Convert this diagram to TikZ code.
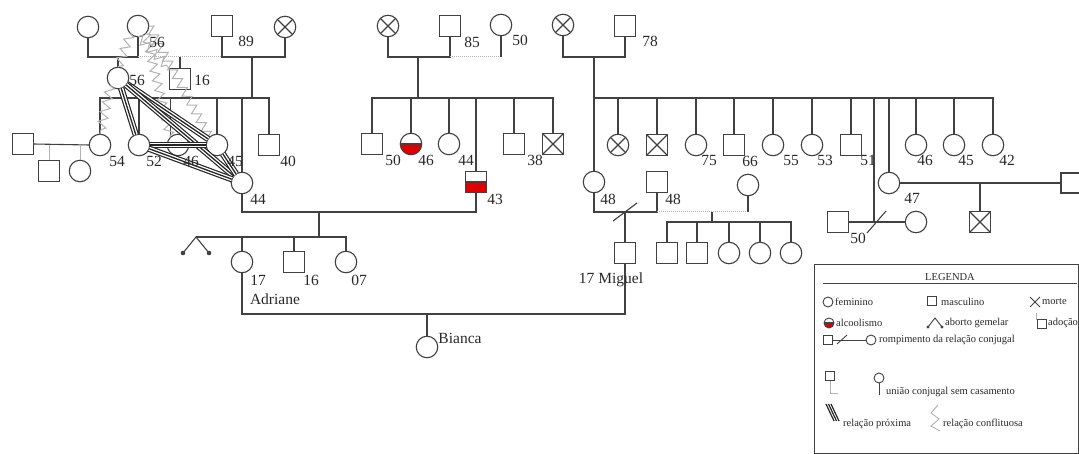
\documentclass[tikz,border=0pt]{standalone}
\usepackage{fontspec}
\setmainfont{Liberation Serif}
\usetikzlibrary{decorations.pathmorphing}
\definecolor{ln}{RGB}{65,65,65}
\definecolor{lg}{RGB}{178,178,178}
\definecolor{txt}{RGB}{40,40,40}
\definecolor{alc}{RGB}{225,0,0}
\tikzset{
 base/.style={draw=ln, fill=white, line width=1.1pt, inner sep=0pt, outer sep=0pt},
 fem/.style={base, circle, minimum size=21.5pt},
 masc/.style={base, rectangle, minimum size=21pt},
 xcross/.style={path picture={\draw[ln, line width=1.1pt] (path picture bounding box.north west) -- (path picture bounding box.south east) (path picture bounding box.north east) -- (path picture bounding box.south west);}},
 xfem/.style={fem, xcross},
 xmasc/.style={masc, xcross},
 alcohol/.style={path picture={\fill[alc] (path picture bounding box.west) rectangle (path picture bounding box.south east); \draw[ln, line width=1.3pt] (path picture bounding box.west) -- (path picture bounding box.east);}},
 lab/.style={font=\fontsize{15.5}{17}\selectfont, text=txt, inner sep=0pt},
 legf/.style={font=\fontsize{10.5}{12}\selectfont, text=txt, inner sep=0pt, anchor=west},
 lfem/.style={circle, draw=ln, fill=white, line width=0.9pt, minimum size=10pt, inner sep=0pt},
 lmasc/.style={rectangle, draw=ln, fill=white, line width=0.9pt, minimum size=9.5pt, inner sep=0pt},
 rel/.style={draw=ln, line width=1.1pt},
 gline/.style={draw=lg, line width=1pt},
 dline/.style={draw=lg, line width=1pt, densely dotted},
 prox/.style={draw=black!85, line width=6.4pt, postaction={draw=white, line width=4pt}, postaction={draw=black!85, line width=1.3pt}},
 zz/.style={draw=lg, line width=1pt, decorate, decoration={zigzag, segment length=10pt, amplitude=4.5pt}},
}
\begin{document}
\begin{tikzpicture}[x=1pt,y=-1pt]
\useasboundingbox (0,0) rectangle (1079,454);
% row levels
\coordinate (r1) at (0,57);
\coordinate (r2) at (0,98);
\coordinate (r3) at (0,212);
\coordinate (r3b) at (0,222);
\coordinate (r4) at (0,237);
\coordinate (r5) at (0,314);

% ===== family 1 (left) =====
\node[fem] (A) at (88,27) {};
\node[fem] (B) at (138,26) {};
\node[masc] (C) at (222,26) {};
\node[xfem] (D) at (285,27) {};
\node[fem] (P56) at (118,78) {};
\node[masc] (S16) at (180,79) {};
\coordinate (jAB) at (118,57);
\coordinate (jCD) at (252,57);
\coordinate (sCD) at (252,98);
\draw[rel] (A.south) |- (B.south |- r1) -- (B.south);
\draw[dline] (B.south |- r1) -- (C.south |- r1);
\draw[rel] (C.south) |- (D.south |- r1) -- (D.south);
\draw[rel] (P56.north) -- (jAB);
\draw[rel] (S16.north) -- (S16.north |- r1);
\draw[rel] (jCD) -- (sCD);

\node[fem] (c54) at (100,145) {};
\node[fem] (c52) at (139,145) {};
\node[fem] (c46) at (178,145) {};
\node[fem] (c45) at (217,145) {};
\node[fem] (c44) at (242,183) {};
\node[masc] (c40) at (269,145) {};
\draw[rel] (c54.north) |- (c40.north |- r2) -- (c40.north);
\draw[rel] (c52.north) -- (c52.north |- r2);
\draw[rel] (c46.north west) -- (c46.north west |- r2);
\draw[rel] (c45.north) -- (c45.north |- r2);
\draw[rel] (c44.north) -- (c44.north |- r2);

\node[masc] (s54) at (23,144) {};
\node[masc] (g1) at (49,171) {};
\node[fem] (g2) at (80,171) {};
\draw[rel] (s54.east) -- (c54.west);
\draw[gline] (g1.north) -- (g1.north |- c54.west);
\draw[gline] (g2.north) -- (g2.north |- c54.west);

% conflict relations
\draw[zz] (B.south west) -- (P56.north);
\draw[zz] (B.south) -- (S16.north west);
\draw[zz] (B.south east) -- (c46.north west);
\draw[zz] (B.east) -- (c45.north west);
\draw[zz] (P56.south west) -- (c54.north);
% close relations
\draw[prox] (P56) -- (c52);
\draw[prox] (P56) -- (c45);
\draw[prox] (P56) -- (c44);
\draw[prox] (c52) -- (c45);
\draw[prox] (c52) -- (c44);
\draw[prox] (c45) -- (c44);

\node[lab] (tB) at (157,42) {56};
\node[lab] (tC) at (246,41) {89};
\node[lab] (tP56) at (137,80) {56};
\node[lab] (tS16) at (202,80) {16};
\node[lab] (t54) at (117,161) {54};
\node[lab] (t52) at (154,161) {52};
\node[lab] (t46) at (191,161) {46};
\node[lab] (t45) at (235,161) {45};
\node[lab] (t40) at (288,161) {40};
\node[lab] (t44) at (258,199) {44};

% ===== family 2 (middle) =====
\node[xfem] (E) at (388,26) {};
\node[masc] (F) at (450,26) {};
\node[fem] (G) at (501,25) {};
\coordinate (jEF) at (418,57);
\coordinate (sEF) at (418,98);
\draw[rel] (E.south) |- (F.south |- r1) -- (F.south);
\draw[dline] (F.south |- r1) -- (G.south |- r1);
\draw[rel] (G.south) -- (G.south |- r1);
\draw[rel] (jEF) -- (sEF);
\node[masc] (m50) at (372,144) {};
\node[fem, alcohol] (m46) at (411,144) {};
\node[fem] (m44) at (449,144) {};
\node[masc, alcohol] (c43) at (476,182) {};
\node[masc] (m38) at (514,144) {};
\node[xmasc] (mX) at (553,144) {};
\draw[rel] (m50.north) |- (mX.north |- r2) -- (mX.north);
\draw[rel] (m46.north) -- (m46.north |- r2);
\draw[rel] (m44.north) -- (m44.north |- r2);
\draw[rel] (c43.north) -- (c43.north |- r2);
\draw[rel] (m38.north) -- (m38.north |- r2);
\node[lab] (tF) at (472,42) {85};
\node[lab] (tG) at (520,40) {50};
\node[lab] (tm50) at (393,160) {50};
\node[lab] (tm46) at (426,160) {46};
\node[lab] (tm44) at (466,160) {44};
\node[lab] (tm38) at (535,160) {38};
\node[lab] (t43) at (495,199) {43};

% couple 44 - 43 and children
\draw[rel] (c44.south) |- (c43.south |- r3) -- (c43.south);
\coordinate (j4443) at (319,212);
\coordinate (ab) at (196,237);
\coordinate (ab1) at (183,253);
\coordinate (ab2) at (209,253);
\node[fem] (k17) at (242,262) {};
\node[masc] (k16) at (294,262) {};
\node[fem] (k07) at (346,262) {};
\draw[rel] (j4443) -- (j4443 |- r4);
\draw[rel] (ab) -- (k07.north |- r4) -- (k07.north);
\draw[rel] (k17.north) -- (k17.north |- r4);
\draw[rel] (k16.north) -- (k16.north |- r4);
\draw[rel] (ab1) -- (ab) -- (ab2);
\fill[ln] (ab1) circle (2.3) (ab2) circle (2.3);
\node[lab] (tk17) at (258,280) {17};
\node[lab] (tk16) at (311,280) {16};
\node[lab] (tk07) at (359,280) {07};
\node[lab] (tAd) at (275,299) {Adriane};

% ===== family 3 (right) =====
\node[xfem] (H) at (563,25) {};
\node[masc] (I) at (625,26) {};
\node[fem] (p48) at (594,182) {};
\draw[rel] (H.south) |- (I.south |- r1) -- (I.south);
\draw[rel] (p48.north) -- (p48.north |- r1);
\node[xfem] (n1) at (618,145) {};
\node[xmasc] (n2) at (657,145) {};
\node[fem] (n75) at (696,145) {};
\node[masc] (n66) at (734,145) {};
\node[fem] (n55) at (773,145) {};
\node[fem] (n53) at (812,145) {};
\node[masc] (n51) at (851,145) {};
\node[fem] (n47) at (889,183) {};
\node[fem] (n46) at (916,145) {};
\node[fem] (n45) at (954,145) {};
\node[fem] (n42) at (993,145) {};
\coordinate (qm) at (874,222);
\draw[rel] (p48.north |- r2) -- (n42.north |- r2) -- (n42.north);
\foreach \n in {n1,n2,n75,n66,n55,n53,n51,n47,n46,n45}
  \draw[rel] (\n.north) -- (\n.north |- r2);
\draw[rel] (qm |- r2) -- (qm);
\node[masc] (q1) at (838,222) {};
\node[fem] (q2) at (916,222) {};
\draw[rel] (q1.east) -- (q2.west);
\draw[rel] (867,233) -- (886,211);
\coordinate (sq47) at (1061,183);
\draw[rel] (n47.east) -- (sq47);
\draw[rel] (1082,173) -- (1061,173) -- (1061,193) -- (1082,193);
\node[xmasc] (n47c) at (980,222) {};
\draw[rel] (n47c.north) -- (n47c.north |- n47.east);

\node[lab] (tI) at (650,41) {78};
\node[lab] (t75) at (709,161) {75};
\node[lab] (t66) at (750,161) {66};
\node[lab] (t55) at (791,161) {55};
\node[lab] (t53) at (825,160) {53};
\node[lab] (t51) at (868,160) {51};
\node[lab] (t46r) at (925,160) {46};
\node[lab] (t45r) at (966,160) {45};
\node[lab] (t42) at (1007,160) {42};
\node[lab] (t47) at (912,198) {47};
\node[lab] (t50r) at (858,238) {50};

% couple 48 - 48
\node[masc] (q48) at (657,182) {};
\node[fem] (p3) at (748,185) {};
\node[masc] (mig) at (625,253) {};
\draw[rel] (p48.south) |- (q48.south |- r3) -- (q48.south);
\draw[rel] (613,221) -- (637,203);
\draw[rel] (mig.north) -- (mig.north |- r3);
\draw[dline] (q48.south |- r3) -- (p3.south |- r3);
\draw[rel] (p3.south) -- (p3.south |- r3);
\coordinate (j48) at (712,212);
\node[masc] (h1) at (667,253) {};
\node[masc] (h2) at (697,253) {};
\node[fem] (h3) at (729,253) {};
\node[fem] (h4) at (760,253) {};
\node[fem] (h5) at (791,253) {};
\draw[rel] (j48) -- (j48 |- r3b);
\draw[rel] (h1.north) |- (h5.north |- r3b) -- (h5.north);
\draw[rel] (h2.north) -- (h2.north |- r3b);
\draw[rel] (h3.north) -- (h3.north |- r3b);
\draw[rel] (h4.north) -- (h4.north |- r3b);
\node[lab] (tp48) at (608,199) {48};
\node[lab] (tq48) at (673,199) {48};

% Adriane - Miguel -> Bianca
\node[fem] (bia) at (427,347) {};
\draw[rel] (k17.south) |- (mig.south |- r5) -- (mig.south);
\draw[rel] (bia.north) -- (bia.north |- r5);
\node[lab] (tMig) at (611,280) {17 Miguel};
\node[lab] (tBia) at (460,338) {Bianca};

% ===== legend =====
\draw[draw=ln, line width=0.8pt] (814,264) rectangle (1078.6,453.6);
\node[legf, anchor=center] (lg0) at (950,277) {LEGENDA};
\draw[draw=ln, line width=1pt] (823,284) -- (1077,284);
\node[lfem] (L1) at (828,302) {};
\node[legf] (L1t) at (835,302) {feminino};
\node[lmasc] (L2) at (932,301) {};
\node[legf] (L2t) at (941,302) {masculino};
\draw[draw=ln, line width=0.9pt] (1030,297) -- (1040,307) (1030,307) -- (1040,297);
\node[legf] (L3t) at (1042,302) {morte};
\node[lfem, alcohol] (L4) at (829,323) {};
\node[legf] (L4t) at (836,323) {alcoolismo};
\draw[draw=ln, line width=0.9pt] (928,327) -- (935,318) -- (942,327);
\fill[ln] (928,327) circle (1.6) (942,327) circle (1.6);
\node[legf] (L5t) at (945,323) {aborto gemelar};
\draw[gline] (1036,313) -- (1036,320);
\node[lmasc] (L6) at (1042,324) {};
\node[legf] (L6t) at (1048,323) {adoção};
\node[lmasc] (L7) at (828,340) {};
\node[lfem] (L8) at (871,340) {};
\draw[draw=ln, line width=0.9pt] (L7.east) -- (L8.west);
\draw[draw=ln, line width=0.9pt] (837,344) -- (847,335);
\node[legf] (L8t) at (879,340) {rompimento da relação conjugal};
\node[lmasc] (L9) at (830,376) {};
\draw[gline] (L9.south) -- (830,393) -- (838,393);
\node[lfem] (L10) at (879,378) {};
\draw[draw=ln, line width=0.9pt] (L10.south) -- (879,395);
\node[legf] (L10t) at (886,392) {união conjugal sem casamento};
\draw[draw=black!85, line width=1.2pt] (826,404) -- (834,421) (828.5,404) -- (836.5,421) (831,404) -- (839,421);
\node[legf] (L11t) at (843,424) {relação próxima};
\draw[draw=lg, line width=0.9pt] (938,405) -- (931,413) -- (939,419) -- (931,426) -- (940,431);
\node[legf] (L12t) at (943,424) {relação conflituosa};
\end{tikzpicture}
\end{document}
